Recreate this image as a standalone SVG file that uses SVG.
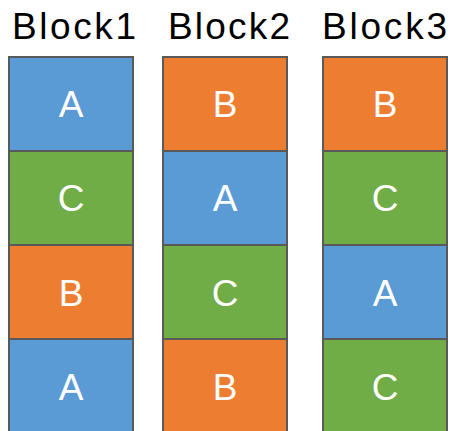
<svg xmlns="http://www.w3.org/2000/svg" width="452" height="431" viewBox="0 0 452 431">
  <style>
    .cell { stroke: #595959; stroke-width: 2; }
    .a { fill: #5B9BD5; }
    .b { fill: #ED7D31; }
    .c { fill: #70AD47; }
    .lbl { font-family: "Liberation Sans", Arial, sans-serif; font-size: 37px; fill: #ffffff; text-anchor: middle; }
    .title { font-family: "Liberation Sans", Arial, sans-serif; font-size: 37px; fill: #000000; }
  </style>
  <rect width="452" height="431" fill="#ffffff"/>

  <!-- Column headings -->
  <text class="title" x="12" y="38.5" textLength="124">Block1</text>
  <text class="title" x="168" y="38.5" textLength="122">Block2</text>
  <text class="title" x="322" y="38.5" textLength="125">Block3</text>

  <!-- Block1 -->
  <g id="block1">
    <g id="b1-r1"><rect class="cell a" x="9" y="57" width="124" height="94"/><text class="lbl" x="71" y="117">A</text></g>
    <g id="b1-r2"><rect class="cell c" x="9" y="151" width="124" height="94"/><text class="lbl" x="71" y="211">C</text></g>
    <g id="b1-r3"><rect class="cell b" x="9" y="245" width="124" height="94"/><text class="lbl" x="71" y="305.5">B</text></g>
    <g id="b1-r4"><rect class="cell a" x="9" y="339" width="124" height="100"/><text class="lbl" x="71" y="399.5">A</text></g>
  </g>

  <!-- Block2 -->
  <g id="block2">
    <g id="b2-r1"><rect class="cell b" x="163" y="57" width="124" height="94"/><text class="lbl" x="225" y="117">B</text></g>
    <g id="b2-r2"><rect class="cell a" x="163" y="151" width="124" height="94"/><text class="lbl" x="225" y="211">A</text></g>
    <g id="b2-r3"><rect class="cell c" x="163" y="245" width="124" height="94"/><text class="lbl" x="225" y="305.5">C</text></g>
    <g id="b2-r4"><rect class="cell b" x="163" y="339" width="124" height="100"/><text class="lbl" x="225" y="399.5">B</text></g>
  </g>

  <!-- Block3 -->
  <g id="block3">
    <g id="b3-r1"><rect class="cell b" x="323" y="57" width="124" height="94"/><text class="lbl" x="385" y="117">B</text></g>
    <g id="b3-r2"><rect class="cell c" x="323" y="151" width="124" height="94"/><text class="lbl" x="385" y="211">C</text></g>
    <g id="b3-r3"><rect class="cell a" x="323" y="245" width="124" height="94"/><text class="lbl" x="385" y="305.5">A</text></g>
    <g id="b3-r4"><rect class="cell c" x="323" y="339" width="124" height="100"/><text class="lbl" x="385" y="399.5">C</text></g>
  </g>
</svg>
